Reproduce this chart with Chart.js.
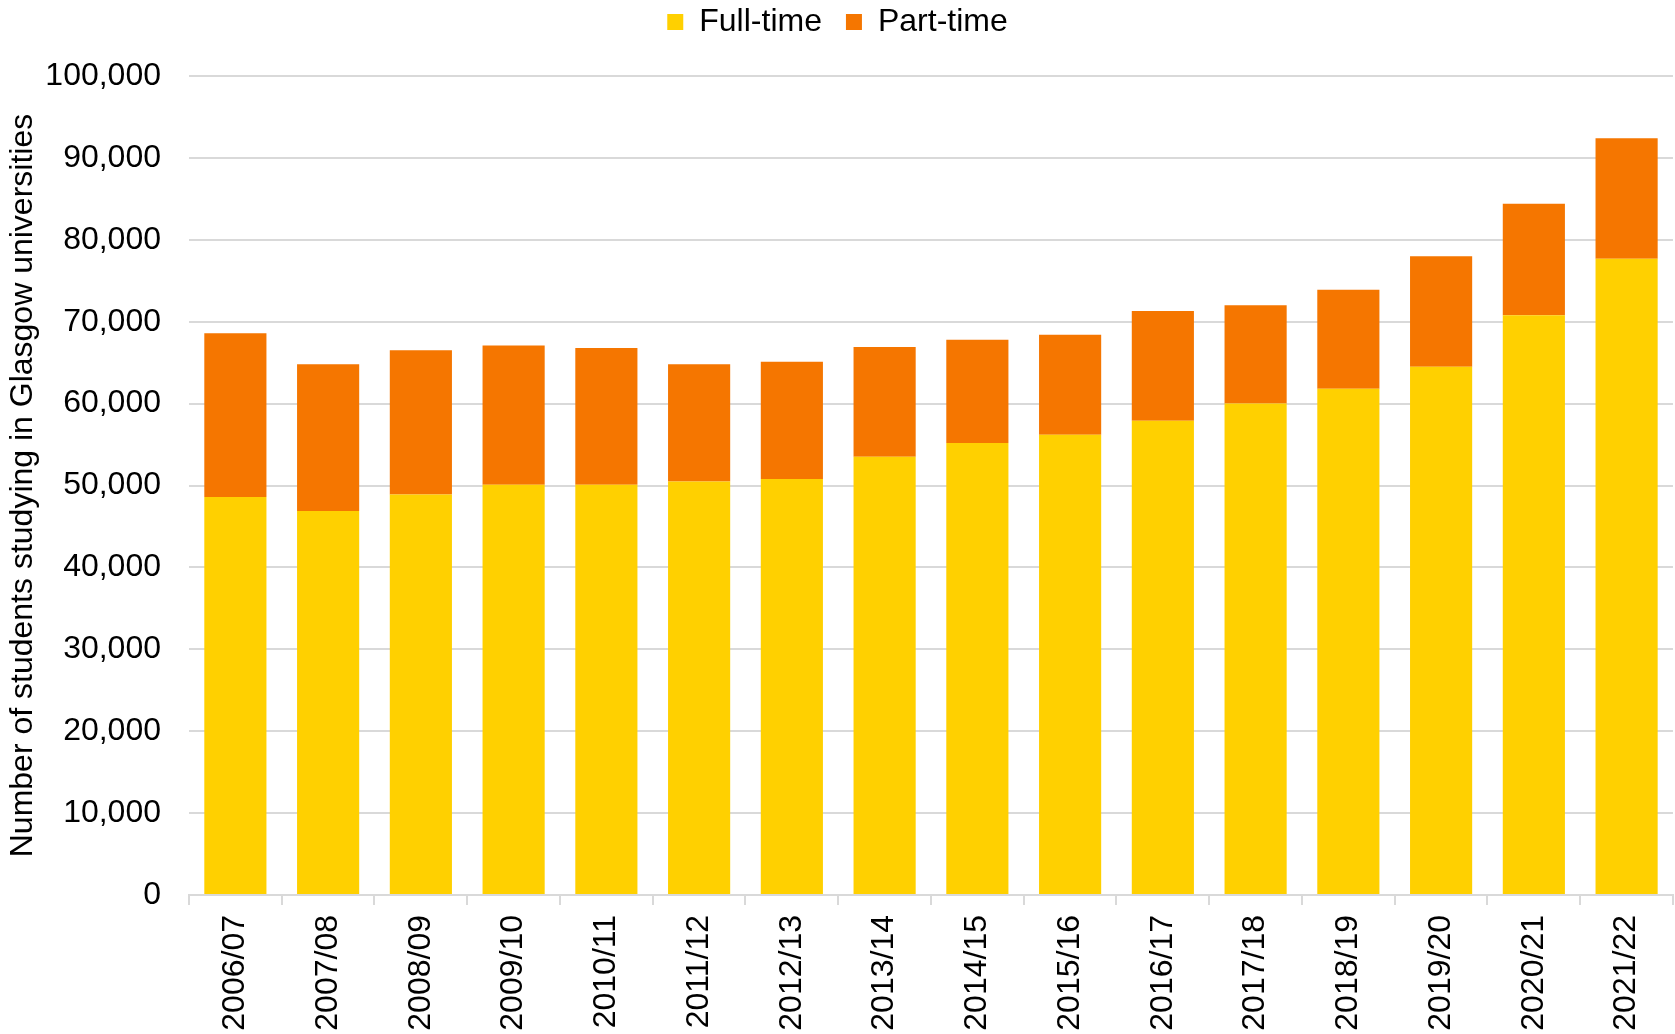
<!DOCTYPE html>
<html>
<head>
<meta charset="utf-8">
<title>Students studying in Glasgow universities</title>
<script src="https://cdn.jsdelivr.net/npm/chart.js@4"></script>
<style>
  html, body { margin: 0; padding: 0; background: #fff; }
  #wrap { width: 1675px; height: 1034px; }
</style>
</head>
<body>
<div id="wrap"><canvas id="studentsChart"></canvas></div>
<script>
const YEARS = ['2006/07', '2007/08', '2008/09', '2009/10', '2010/11', '2011/12', '2012/13', '2013/14',
               '2014/15', '2015/16', '2016/17', '2017/18', '2018/19', '2019/20', '2020/21', '2021/22'];

const FULL_TIME = [48600, 46900, 48900, 50100, 50100, 50500, 50800, 53500,
                   55200, 56200, 57900, 60000, 61800, 64500, 70800, 77700];

const PART_TIME = [20000, 17900, 17600, 17000, 16700, 14300, 14300, 13400,
                   12600, 12200, 13400, 12000, 12100, 13500, 13600, 14700];

const FONT = 'Liberation Sans, Arial, sans-serif';
const GRID = '#d9d9d9';

// reserve a fixed band for the legend and pull its items up near the top edge
const legendSpacer = {
    id: 'legendSpacer',
    beforeInit(chart) {
        const fit = chart.legend.fit;
        chart.legend.fit = function () {
            fit.bind(chart.legend)();
            this.height = 76;
        };
    },
    afterLayout(chart) {
        chart.legend.top -= 18;
    }
};

const ctx = document.getElementById('studentsChart').getContext('2d');
new Chart(ctx, {
    type: 'bar',
    data: {
        labels: YEARS,
        datasets: [{
            label: 'Full-time',
            data: FULL_TIME,
            backgroundColor: '#ffd000',
            categoryPercentage: 0.67,
            barPercentage: 1
        }, {
            label: 'Part-time',
            data: PART_TIME,
            backgroundColor: '#f57600',
            categoryPercentage: 0.67,
            barPercentage: 1
        }]
    },
    options: {
        responsive: true,
        maintainAspectRatio: false,
        animation: false,
        layout: { padding: { left: 0, right: 0, top: 0, bottom: 0 } },
        plugins: {
            legend: {
                position: 'top',
                align: 'center',
                labels: {
                    color: '#000',
                    font: { family: FONT, size: 32 },
                    boxWidth: 16,
                    boxHeight: 16,
                    padding: 24
                }
            },
            tooltip: { enabled: false }
        },
        scales: {
            x: {
                stacked: true,
                grid: {
                    offset: true,
                    drawOnChartArea: false,
                    color: GRID,
                    lineWidth: 2,
                    tickLength: 10
                },
                border: { color: GRID, width: 2 },
                ticks: {
                    color: '#000',
                    font: { family: FONT, size: 32 },
                    minRotation: 90,
                    maxRotation: 90,
                    padding: 10
                },
                afterFit(scale) { scale.height = 139; }
            },
            y: {
                stacked: true,
                min: 0,
                max: 100000,
                grid: { color: GRID, lineWidth: 2, drawTicks: false },
                border: { display: false },
                ticks: {
                    stepSize: 10000,
                    color: '#000',
                    font: { family: FONT, size: 32 },
                    padding: 28,
                    callback: v => v.toLocaleString('en-GB')
                },
                title: {
                    display: true,
                    text: 'Number of students studying in Glasgow universities',
                    color: '#000',
                    font: { family: FONT, size: 32 },
                    padding: { top: 4, bottom: 4 }
                },
                afterFit(scale) { scale.width = 189; }
            }
        }
    },
    plugins: [legendSpacer]
});
</script>
</body>
</html>
